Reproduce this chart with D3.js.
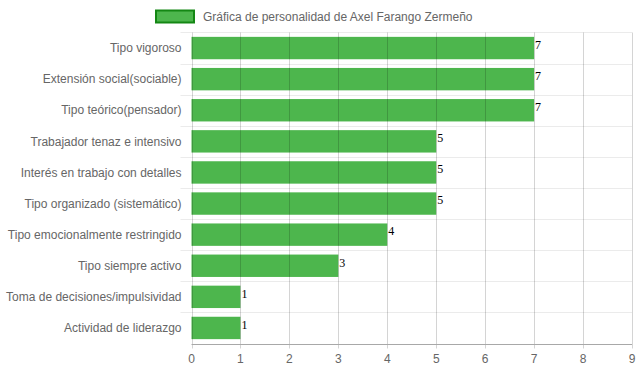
<!DOCTYPE html>
<html>
<head>
<meta charset="utf-8">
<script src="https://cdn.jsdelivr.net/npm/d3@7"></script>
<style>
  body { margin: 0; background: #fff; }
  svg { display: block; }
</style>
</head>
<body>
<svg></svg>
<script>
const width = 639;
const height = 372;
const margin = { top: 32.5, right: 7, bottom: 28.5, left: 191.5 };

// data
const seriesName = "Gráfica de personalidad de Axel Farango Zermeño";
const categories = [
    "Tipo vigoroso",
    "Extensión social(sociable)",
    "Tipo teórico(pensador)",
    "Trabajador tenaz e intensivo",
    "Interés en trabajo con detalles",
    "Tipo organizado (sistemático)",
    "Tipo emocionalmente restringido",
    "Tipo siempre activo",
    "Toma de decisiones/impulsividad",
    "Actividad de liderazgo"
];
const values = [7, 7, 7, 5, 5, 5, 4, 3, 1, 1];
const xTicks = [0, 1, 2, 3, 4, 5, 6, 7, 8, 9];

const barColor = "rgb(77,182,77)";
const barBorder = "rgb(20,135,20)";

const svg = d3.select("svg")
    .attr("width", width)
    .attr("height", height);

const x = d3.scaleLinear()
    .domain([0, 9])
    .range([margin.left, width - margin.right]);

const y = d3.scaleBand()
    .domain(categories)
    .range([margin.top, height - margin.bottom])
    .paddingInner(0.28)
    .paddingOuter(0.14);

const step = y.step();
const bandTop = d => y(d) - y.paddingInner() * step / 2;

// horizontal grid lines (between categories)
const hLines = categories.map(c => bandTop(c));
svg.append("g")
    .selectAll("line")
    .data(hLines)
    .enter().append("line")
    .attr("x1", margin.left - 11)
    .attr("x2", width - margin.right)
    .attr("y1", d => Math.round(d) + 0.5)
    .attr("y2", d => Math.round(d) + 0.5)
    .attr("stroke", "#ebebeb")
    .attr("stroke-width", 1);

// bars
svg.append("g")
    .selectAll("rect")
    .data(values)
    .enter().append("rect")
    .attr("x", x(0))
    .attr("y", (d, i) => y(categories[i]))
    .attr("width", d => x(d) - x(0))
    .attr("height", y.bandwidth())
    .attr("fill", barColor);

// vertical grid lines, drawn over the bars
svg.append("g")
    .selectAll("line")
    .data(xTicks)
    .enter().append("line")
    .attr("x1", d => Math.round(x(d)) + 0.5)
    .attr("x2", d => Math.round(x(d)) + 0.5)
    .attr("y1", margin.top)
    .attr("y2", height - margin.bottom + 5)
    .attr("stroke", "rgba(0,0,0,0.17)")
    .attr("stroke-width", 1);

// value labels
svg.append("g")
    .selectAll("text")
    .data(values)
    .enter().append("text")
    .attr("x", d => x(d) + 1)
    .attr("y", (d, i) => y(categories[i]) + 12)
    .attr("font-family", "'Liberation Serif', 'Times New Roman', serif")
    .attr("font-size", 12)
    .attr("fill", "#000")
    .text(d => d);

// bottom axis line
svg.append("line")
    .attr("x1", x(0))
    .attr("x2", width - margin.right)
    .attr("y1", Math.round(height - margin.bottom) + 0.5)
    .attr("y2", Math.round(height - margin.bottom) + 0.5)
    .attr("stroke", "#a8a8a8");

// x tick labels
svg.append("g")
    .selectAll("text")
    .data(xTicks)
    .enter().append("text")
    .attr("x", d => x(d))
    .attr("y", height - margin.bottom + 19)
    .attr("text-anchor", "middle")
    .attr("font-family", "'Liberation Sans', Arial, sans-serif")
    .attr("font-size", 12)
    .attr("fill", "#666")
    .text(d => d);

// category labels
svg.append("g")
    .selectAll("text")
    .data(categories)
    .enter().append("text")
    .attr("x", margin.left - 10)
    .attr("y", d => y(d) + y.bandwidth() / 2)
    .attr("dy", "0.35em")
    .attr("text-anchor", "end")
    .attr("font-family", "'Liberation Sans', Arial, sans-serif")
    .attr("font-size", 12)
    .attr("fill", "#666")
    .text(d => d);

// legend
const legend = svg.append("g");
legend.append("rect")
    .attr("x", 156)
    .attr("y", 10.5)
    .attr("width", 38)
    .attr("height", 12)
    .attr("fill", barColor)
    .attr("stroke", barBorder)
    .attr("stroke-width", 2);
legend.append("text")
    .attr("x", 203)
    .attr("y", 16.5)
    .attr("dy", "0.35em")
    .attr("font-family", "'Liberation Sans', Arial, sans-serif")
    .attr("font-size", 12)
    .attr("fill", "#666")
    .text(seriesName);
</script>
</body>
</html>
